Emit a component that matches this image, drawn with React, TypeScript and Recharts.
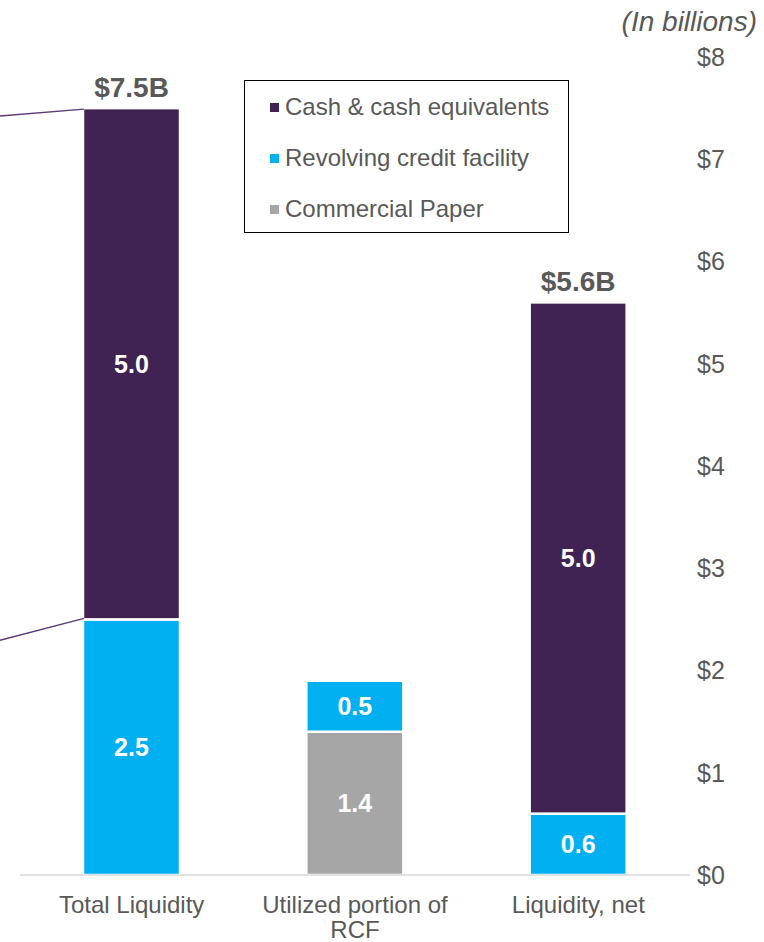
import React from "react";
import { BarChart, Bar, XAxis, YAxis, Legend, LabelList } from "recharts";

const categories = ["Total Liquidity", "Utilized portion of RCF", "Liquidity, net"];
const cashValues = [5.0, 0, 5.0];
const rcfValues = [2.5, 0.5, 0.6];
const cpValues = [0, 1.4, 0];
const totalLabels = ["$7.5B", "", "$5.6B"];
const yTicks = [0, 1, 2, 3, 4, 5, 6, 7, 8];

const COLORS = { cash: "#402352", rcf: "#00B0F0", cp: "#A6A6A6" };
const legendItems = [
  { name: "Cash & cash equivalents", color: COLORS.cash },
  { name: "Revolving credit facility", color: COLORS.rcf },
  { name: "Commercial Paper", color: COLORS.cp },
];

const data = categories.map((c, i) => ({
  name: c,
  cash: cashValues[i],
  rcf: rcfValues[i],
  cp: cpValues[i],
  total: totalLabels[i],
}));

const FONT = "'Liberation Sans', Arial, sans-serif";
const TEXT = "#595959";

function wrap(label: string, maxChars: number): string[] {
  const words = label.split(" ");
  const lines: string[] = [];
  let cur = "";
  for (const w of words) {
    const next = cur ? cur + " " + w : w;
    if (next.length > maxChars && cur) {
      lines.push(cur);
      cur = w;
    } else cur = next;
  }
  if (cur) lines.push(cur);
  return lines;
}

const XTick = (props: any) => {
  const { x, y, payload } = props;
  const lines = wrap(String(payload.value), 19);
  return (
    <text x={x} y={y} textAnchor="middle" fill={TEXT} fontSize={24} fontFamily={FONT}>
      {lines.map((l, i) => (
        <tspan key={i} x={x} dy={i === 0 ? 36 : 25}>
          {l}
        </tspan>
      ))}
    </text>
  );
};

const CashShape = (props: any) => {
  const { x, y, width, height, fill, index } = props;
  if (!height || height <= 0) return null;
  return (
    <g>
      <rect x={x} y={y} width={width} height={height} fill={fill} stroke="#fff" strokeWidth={2.5} />
      {index === 0 && (
        <g stroke="#5B3A7A" strokeWidth={1.5}>
          <line x1={x + 1} y1={y + 1} x2={0} y2={y + 8} />
          <line x1={x + 1} y1={y + height - 1} x2={0} y2={y + height + 21} />
        </g>
      )}
    </g>
  );
};

const TotalLabel = (props: any) => {
  const { x, y, width, index } = props;
  const t = totalLabels[index];
  if (!t) return null;
  return (
    <text x={x + width / 2} y={y - 11} textAnchor="middle" fill={TEXT} fontSize={28} fontWeight="bold" fontFamily={FONT}>
      {t}
    </text>
  );
};

const LegendContent = () => (
  <div style={{ position: "relative", width: "100%", height: "100%" }}>
    {legendItems.map((it, i) => (
      <div
        key={it.name}
        style={{
          position: "absolute",
          left: 25,
          top: 26 + i * 51 - 14,
          height: 28,
          display: "flex",
          alignItems: "center",
          whiteSpace: "nowrap",
          fontFamily: FONT,
          fontSize: 24,
          color: TEXT,
        }}
      >
        <span style={{ display: "inline-block", width: 9, height: 9, background: it.color, marginRight: 6 }} />
        {it.name}
      </div>
    ))}
  </div>
);

const segLabel = (v: any) => (v ? Number(v).toFixed(1) : "");

export default function App() {
  return (
    <div style={{ position: "absolute", left: 0, top: 0, width: 764, height: 942 }}>
      <div
        style={{
          position: "absolute",
          right: 7,
          top: 6,
          fontFamily: FONT,
          fontStyle: "italic",
          fontSize: 28,
          color: TEXT,
          whiteSpace: "nowrap",
        }}
      >
        (In billions)
      </div>
      <BarChart width={764} height={942} data={data} margin={{ top: 57, right: 0, left: 20, bottom: 0 }}>
        <XAxis
          dataKey="name"
          height={67}
          tickLine={false}
          axisLine={{ stroke: "#D9D9D9", strokeWidth: 1.5 }}
          tickSize={0}
          tick={<XTick />}
          interval={0}
        />
        <YAxis
          orientation="right"
          width={74}
          domain={[0, 8]}
          ticks={yTicks}
          tickFormatter={(v: number) => `$${v}`}
          axisLine={false}
          tickLine={false}
          tickSize={0}
          tickMargin={7}
          tick={{ fill: TEXT, fontSize: 25, fontFamily: FONT }}
        />
        <Legend
          layout="vertical"
          align="center"
          verticalAlign="middle"
          content={<LegendContent />}
          wrapperStyle={{
            position: "absolute",
            left: 244,
            top: 80,
            width: 325,
            height: 153,
            border: "1.5px solid #000",
            boxSizing: "border-box",
            background: "#fff",
          }}
        />
        <Bar dataKey="cp" stackId="a" fill={COLORS.cp} barSize={97} stroke="#fff" strokeWidth={2.5} isAnimationActive={false}>
          <LabelList dataKey="cp" position="center" formatter={segLabel} fill="#fff" fontSize={25} fontWeight="bold" fontFamily={FONT} />
        </Bar>
        <Bar dataKey="rcf" stackId="a" fill={COLORS.rcf} barSize={97} stroke="#fff" strokeWidth={2.5} isAnimationActive={false}>
          <LabelList dataKey="rcf" position="center" formatter={segLabel} fill="#fff" fontSize={25} fontWeight="bold" fontFamily={FONT} />
        </Bar>
        <Bar dataKey="cash" stackId="a" fill={COLORS.cash} barSize={97} shape={<CashShape />} isAnimationActive={false}>
          <LabelList dataKey="cash" position="center" formatter={segLabel} fill="#fff" fontSize={25} fontWeight="bold" fontFamily={FONT} />
          <LabelList dataKey="total" content={<TotalLabel />} />
        </Bar>
      </BarChart>
    </div>
  );
}
